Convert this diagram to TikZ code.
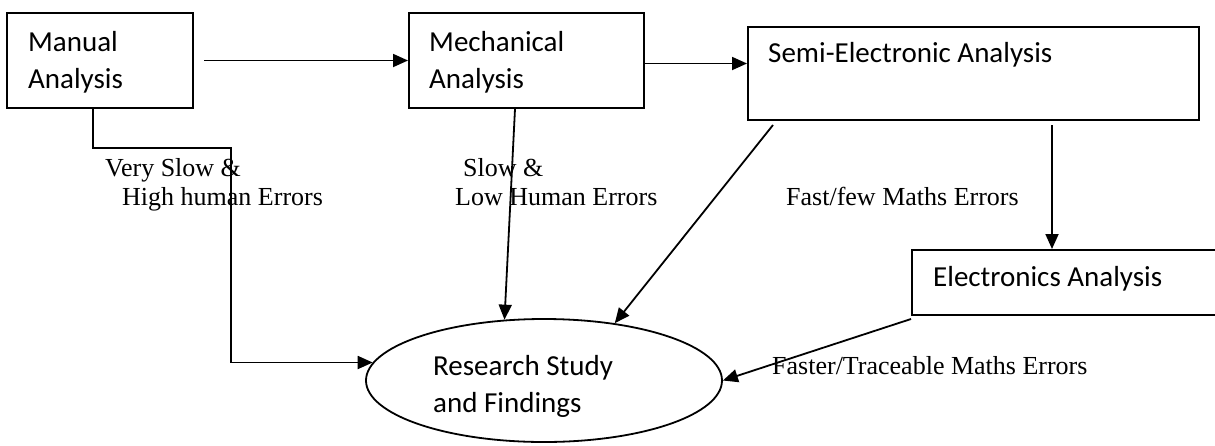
\documentclass[tikz,border=0pt]{standalone}
\usepackage{fontspec}
\setmainfont{Carlito}
\newfontfamily\lblfont{Liberation Serif}
\usetikzlibrary{arrows.meta,shapes.geometric}
\begin{document}
\begin{tikzpicture}[x=1pt,y=-1pt,
  box/.style={draw, line width=2pt, rectangle, inner sep=0pt},
  oval/.style={draw, line width=1.8pt, ellipse, inner sep=0pt},
  btxt/.style={anchor=base west, inner sep=0pt, align=left, font=\fontsize{29}{37}\selectfont},
  ltxt/.style={anchor=base west, inner sep=0pt, align=left, font=\lblfont\fontsize{26}{29}\selectfont},
  arr/.style={line width=1.8pt, -{Triangle[length=15pt,width=13pt]}}]
\useasboundingbox (0,0) rectangle (1215,445);
\fill[white] (0,0) rectangle (1215,445);
\clip (0,0) rectangle (1215,445);
% boxes
\node[box, minimum width=186pt, minimum height=95pt] (manual) at (100,60.5) {};
\node[box, minimum width=235pt, minimum height=95pt] (mech) at (526.5,60.5) {};
\node[box, minimum width=451pt, minimum height=93pt] (semi) at (973.5,73.5) {};
\node[box, minimum width=328pt, minimum height=65pt] (elec) at (1076,282.5) {};
\node[oval, minimum width=356pt, minimum height=123pt] (research) at (544,380.5) {};
% box texts (base = baseline of last line)
\node[btxt] (manualtxt) at (28,88) {Manual\\Analysis};
\node[btxt] (mechtxt) at (429,88) {Mechanical\\Analysis};
\node[btxt] (semitxt) at (768,62) {Semi-Electronic Analysis};
\node[btxt] (electxt) at (933,286) {Electronics Analysis};
\node[btxt] (researchtxt) at (433,412) {Research Study\\and Findings};
% labels
\node[ltxt] (l1a) at (105,176) {Very Slow \&};
\node[ltxt] (l1b) at (122,205) {High human Errors};
\node[ltxt] (l2a) at (463,176) {Slow \&};
\node[ltxt] (l2b) at (455,205) {Low Human Errors};
\node[ltxt] (l3) at (786,205) {Fast/few Maths Errors};
\node[ltxt] (l4) at (772,374) {Faster/Traceable Maths Errors};
% connectors
\coordinate (mbend) at (231,148);
\draw[arr] ([xshift=10pt]manual.east) -- (mech.west);
\draw[arr] ([yshift=-3pt]mech.east) -- ([yshift=-3pt]mech.east -| semi.west);
\draw[arr] ([xshift=-7pt]manual.south) |- (mbend) |- (research.174);
\draw[arr] ([xshift=-11.5pt]mech.south) -- (research.123);
\draw[arr] ([xshift=-200.5pt,yshift=-4pt]semi.south) -- (research.39);
\draw[arr] ([xshift=78.5pt,yshift=-4pt]semi.south) -- ([xshift=78.5pt]semi.south |- elec.north);
\draw[arr] ([yshift=-3pt]elec.south west) -- (research.east);
\end{tikzpicture}
\end{document}
